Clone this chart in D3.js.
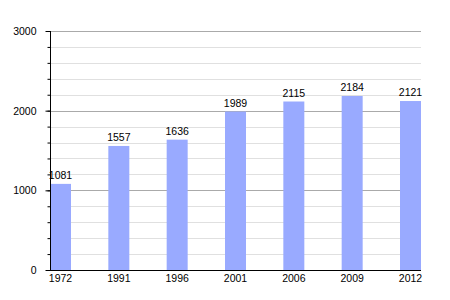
<!DOCTYPE html>
<html lang="en">
<head>
    <meta charset="UTF-8">
    <script src="https://d3js.org/d3.v7.min.js"></script>
    <title>Population</title>
    <style>
        body { margin: 0; padding: 0; background: #fff; }
        svg { display: block; }
        text { font-family: "Liberation Sans", Arial, sans-serif; font-size: 10.5px; fill: #000; }
    </style>
</head>
<body>
<script>
    // data
    var years = ['1972', '1991', '1996', '2001', '2006', '2009', '2012']
    var population = [1081, 1557, 1636, 1989, 2115, 2184, 2121]
    var majorTicks = [0, 1000, 2000, 3000]

    var width = 450, height = 300
    // plot box (named so they don't clash with window.top)
    var plotL = 50, plotR = 421, plotT = 31, plotB = 270
    var barW = 21

    var svg = d3.select('body').append('svg')
        .attr('width', width)
        .attr('height', height)

    var y = d3.scaleLinear().domain([0, 3000]).range([plotB, plotT])
    var x = d3.scalePoint().domain(years).range([plotL + barW / 2, plotR - barW / 2])

    // minor grid
    svg.append('g').selectAll('line')
        .data(d3.range(200, 3000, 200).filter(function (v) { return v % 1000 != 0 }))
        .enter().append('line')
        .attr('x1', plotL).attr('x2', plotR)
        .attr('y1', function (d) { return Math.round(y(d)) + 0.5 })
        .attr('y2', function (d) { return Math.round(y(d)) + 0.5 })
        .attr('stroke', '#e0e0e0')

    // major grid
    svg.append('g').selectAll('line')
        .data(majorTicks.slice(1))
        .enter().append('line')
        .attr('x1', plotL).attr('x2', plotR)
        .attr('y1', function (d) { return Math.round(y(d)) + 0.5 })
        .attr('y2', function (d) { return Math.round(y(d)) + 0.5 })
        .attr('stroke', '#aaaaaa')

    // bars
    svg.append('g').selectAll('rect')
        .data(population)
        .enter().append('rect')
        .attr('x', function (d, i) { return x(years[i]) - barW / 2 })
        .attr('y', function (d) { return y(d) })
        .attr('width', barW)
        .attr('height', function (d) { return plotB - y(d) })
        .attr('fill', '#99aaff')

    // value labels
    svg.append('g').selectAll('text')
        .data(population)
        .enter().append('text')
        .attr('x', function (d, i) { return x(years[i]) })
        .attr('y', function (d) { return y(d) - 5 })
        .attr('text-anchor', 'middle')
        .text(function (d) { return d })

    // y axis with minor ticks
    var yAxis = d3.axisLeft(y).tickValues(majorTicks).tickFormat(d3.format('d')).tickSize(5).tickPadding(9)
    var yMinor = d3.axisLeft(y).tickValues(d3.range(0, 3001, 200)).tickSize(3).tickFormat('')
    svg.append('g').attr('transform', 'translate(' + (plotL + 0.5) + ',0)').call(yMinor)
        .call(function (g) { g.select('.domain').remove() })
    svg.append('g').attr('transform', 'translate(' + (plotL + 0.5) + ',0)').call(yAxis)
        .call(function (g) { g.selectAll('text').style('font-size', '10.5px').style('font-family', '"Liberation Sans", Arial, sans-serif') })
        .call(function (g) { g.select('.domain').attr('d', 'M0,' + plotT + 'V' + plotB) })

    // x axis line and labels
    svg.append('line')
        .attr('x1', plotL).attr('x2', plotR)
        .attr('y1', plotB + 0.5).attr('y2', plotB + 0.5)
        .attr('stroke', '#000')

    svg.append('g').selectAll('text')
        .data(years)
        .enter().append('text')
        .attr('x', function (d) { return x(d) })
        .attr('y', plotB + 12)
        .attr('text-anchor', 'middle')
        .text(function (d) { return d })
</script>
</body>
</html>
